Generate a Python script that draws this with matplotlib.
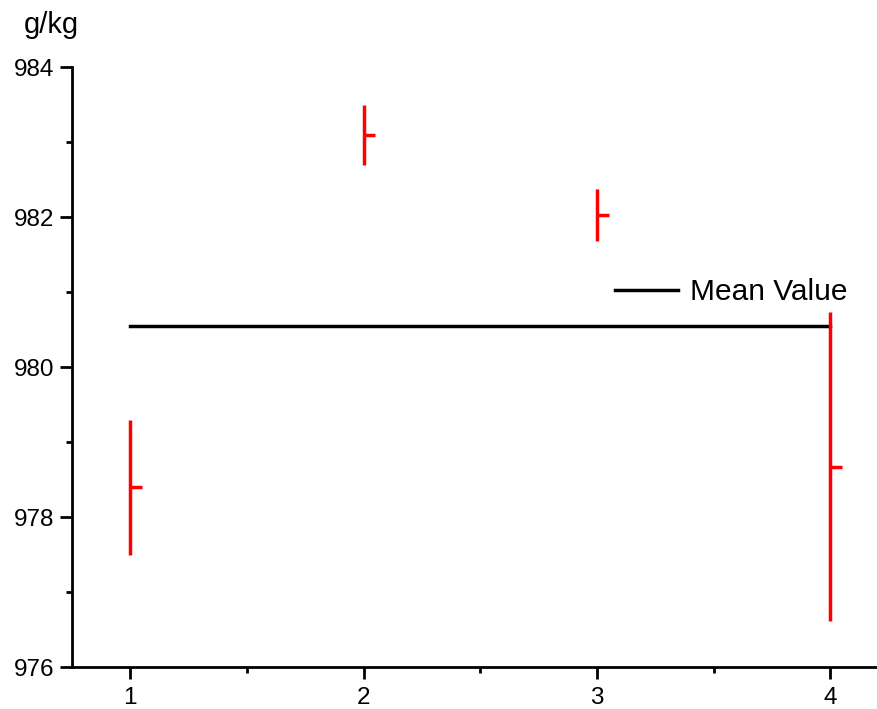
import matplotlib
matplotlib.use("Agg")
import matplotlib.pyplot as plt
import numpy as np

plt.rcParams['font.family'] = ['Liberation Sans', 'DejaVu Sans']

samples = [1, 2, 3, 4]
values = [978.4, 983.1, 982.03, 978.67]
errors = [0.9, 0.4, 0.35, 2.06]
mean_value = 980.55
x_ticks = [1, 2, 3, 4]
y_ticks = [976, 978, 980, 982, 984]

fig = plt.figure(figsize=(8.77, 7.09), dpi=100)
ax = fig.add_axes([72/877, 1-667/709, 1-72/877, (667-67)/709])

x = np.array(samples, dtype=float)
v = np.array(values)
e = np.array(errors)
ax.vlines(x, v - e, v + e, color='#ff0000', lw=2.5, zorder=3)
ax.hlines(v, x, x + 0.05, color='#ff0000', lw=2.5, zorder=3)
ax.plot([samples[0], samples[-1]], [mean_value, mean_value], color='black', lw=2.5,
        label='Mean Value', zorder=2)

ax.set_xlim(0.751, 4.2)
ax.set_ylim(976, 984)
ax.set_xticks(x_ticks)
ax.set_xticks([1.5, 2.5, 3.5], minor=True)
ax.set_yticks(y_ticks)
ax.set_yticks([977, 979, 981, 983], minor=True)
for s in ['top', 'right']:
    ax.spines[s].set_visible(False)
for s in ['left', 'bottom']:
    ax.spines[s].set_linewidth(2)
ax.tick_params(which='major', direction='out', length=8.5, width=2, labelsize=17.5)
ax.tick_params(axis='y', which='major', pad=4)
ax.tick_params(axis='x', which='major', pad=6)
ax.tick_params(which='minor', direction='out', length=4.5, width=2)

fig.text(24/877, 1-25/709, 'g/kg', fontsize=21, ha='left', va='center')

leg = ax.legend(loc='center left', bbox_to_anchor=(615/877, 1-292/709),
                bbox_transform=fig.transFigure, frameon=False, fontsize=21.5,
                handlelength=2.1, handletextpad=0.4, borderpad=0, borderaxespad=0)

fig.savefig('out.png', dpi=100)
